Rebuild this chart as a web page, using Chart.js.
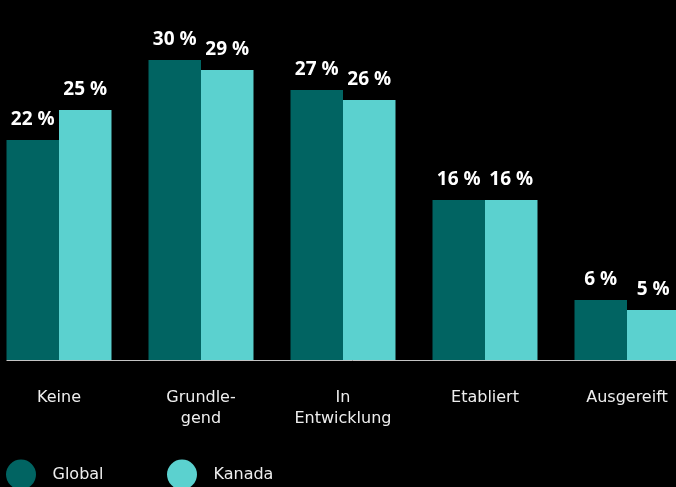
<!DOCTYPE html>
<html>
<head>
<meta charset="utf-8">
<script src="https://cdn.jsdelivr.net/npm/chart.js@4/dist/chart.umd.min.js"></script>
<style>
  html, body { margin: 0; padding: 0; background: #000; overflow: hidden; width: 676px; height: 487px; position: relative; }
  #c { display: block; position: absolute; left: -12px; top: 0; }
</style>
</head>
<body>
<canvas id="c" width="710" height="487"></canvas>
<script>
// ---- data ----
const categories = [['Keine'], ['Grundle-', 'gend'], ['In', 'Entwicklung'], ['Etabliert'], ['Ausgereift']];
const seriesNames = ['Global', 'Kanada'];
const globalValues = [22, 30, 27, 16, 6];
const kanadaValues = [25, 29, 26, 16, 5];
const valueSuffix = ' %';

const colors = ['#016462', '#5bd1cf'];
const canvasShift = 12; // canvas is shifted left by this many pixels

const valueLabelPlugin = {
  id: 'valueLabels',
  beforeDatasetsDraw(chart) {
    // baseline axis line, starting at the left edge of the first bar
    const ctx = chart.ctx;
    const first = chart.getDatasetMeta(0).data[0];
    const left = first.x - first.width / 2;
    const y = chart.chartArea.bottom + 0.5;
    ctx.save();
    ctx.strokeStyle = '#c4c4c4';
    ctx.lineWidth = 1;
    ctx.beginPath();
    ctx.moveTo(left, y);
    ctx.lineTo(chart.chartArea.right, y);
    ctx.stroke();
    ctx.restore();
  },
  afterDatasetsDraw(chart) {
    const ctx = chart.ctx;
    ctx.save();
    ctx.fillStyle = '#ffffff';
    ctx.font = 'bold 19px "Open Sans"';
    ctx.textAlign = 'center';
    ctx.textBaseline = 'alphabetic';
    chart.data.datasets.forEach((ds, di) => {
      const meta = chart.getDatasetMeta(di);
      meta.data.forEach((bar, i) => {
        ctx.fillText(ds.data[i] + valueSuffix, bar.x, bar.y - 15.5);
      });
    });
    ctx.restore();
  },
  afterDraw(chart) {
    // legend with large circles
    const ctx = chart.ctx;
    ctx.save();
    ctx.font = '16px "DejaVu Sans"';
    ctx.textBaseline = 'middle';
    ctx.textAlign = 'left';
    chart.data.datasets.forEach((ds, di) => {
      const cx = canvasShift + 21 + di * 161;
      const cy = 474.5;
      ctx.fillStyle = ds.backgroundColor;
      ctx.beginPath();
      ctx.arc(cx, cy, 15, 0, Math.PI * 2);
      ctx.fill();
      ctx.fillStyle = '#eeeeee';
      ctx.fillText(ds.label, cx + 31.5, cy + 0.5);
    });
    ctx.restore();
  }
};

new Chart(document.getElementById('c'), {
  type: 'bar',
  data: {
    labels: categories,
    datasets: [
      { label: seriesNames[0], data: globalValues, backgroundColor: colors[0] },
      { label: seriesNames[1], data: kanadaValues, backgroundColor: colors[1] }
    ]
  },
  options: {
    responsive: false,
    animation: false,
    devicePixelRatio: 1,
    layout: { padding: 0 },
    datasets: { bar: { categoryPercentage: 0.7394, barPercentage: 1, borderWidth: 0 } },
    plugins: { legend: { display: false }, tooltip: { enabled: false } },
    scales: {
      x: {
        offset: true,
        grid: { display: false, drawTicks: false },
        border: { display: false },
        ticks: {
          color: '#eeeeee',
          padding: 27,
          maxRotation: 0,
          autoSkip: false,
          font: { family: '"DejaVu Sans"', size: 16, lineHeight: 1.32 }
        },
        afterFit(scale) { scale.height = 127; }
      },
      y: { display: false, min: 0, max: 36 }
    }
  },
  plugins: [valueLabelPlugin]
});
</script>
</body>
</html>
